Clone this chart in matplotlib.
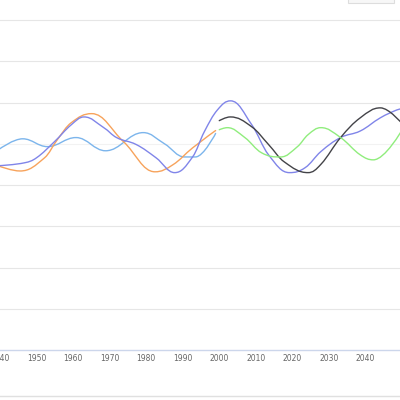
import matplotlib.pyplot as plt
import numpy as np
from matplotlib.path import Path
from matplotlib.patches import PathPatch, Rectangle
from matplotlib.lines import Line2D

# Series (year, value); grid step = 1 unit
blue_years = [1940, 1946.2, 1953, 1960.8, 1968.9, 1979.2, 1985, 1990.5, 1993.5, 1999]
blue_vals = [-0.12, 0.12, -0.07, 0.15, -0.17, 0.27, 0.0, -0.32, -0.32, 0.25]

orange_years = [1940, 1945.5, 1952.2, 1955.7, 1959.5, 1965.1, 1973.8, 1982.4,
                1987.3, 1992.7, 1999]
orange_vals = [-0.55, -0.66, -0.34, 0.10, 0.51, 0.73, 0.05, -0.68,
               -0.51, -0.10, 0.32]

purple_years = [1940, 1946.8, 1950, 1954.9, 1959.5, 1963, 1968.4, 1971.9,
                1977.3, 1982.7, 1987.8, 1992.7, 1995.9, 1999.5, 2003.1, 2008.9,
                2013.5, 2019.2, 2023.5, 2027.8, 2033.2, 2038.6, 2044.1, 2048.6, 2050]
purple_vals = [-0.53, -0.46, -0.34, 0.05, 0.46, 0.65, 0.39, 0.15,
               -0.02, -0.34, -0.70, -0.32, 0.29, 0.82, 1.04, 0.46,
               -0.27, -0.70, -0.58, -0.19, 0.15, 0.31, 0.63, 0.82, 0.85]

black_years = [2000, 2003, 2008.9, 2013.5, 2017.8, 2024.3, 2027.8, 2033.2,
               2038.6, 2044.1, 2050]
black_vals = [0.56, 0.65, 0.41, -0.02, -0.44, -0.70, -0.50, 0.15,
              0.63, 0.87, 0.49]

green_years = [2000, 2002.2, 2007, 2011.6, 2016.8, 2021.4, 2024.3, 2027.8,
               2033.2, 2038.6, 2042.2, 2050]
green_vals = [0.34, 0.39, 0.15, -0.22, -0.32, -0.07, 0.22, 0.39,
              0.15, -0.27, -0.39, 0.33]

x_ticks = list(range(1940, 2041, 10))
y_grid = [-4, -3, -2, -1, 0, 1, 2, 3]


def spline_path(xs, ys, smoothing=1.5):
    # Highcharts-style spline: control points from neighbours, no false extremes
    n = len(xs)
    left = [(xs[0], ys[0])] * n
    right = [(xs[0], ys[0])] * n
    for i in range(n):
        x, y = xs[i], ys[i]
        if i == 0 or i == n - 1:
            left[i] = right[i] = (x, y)
            continue
        lx, ly = xs[i - 1], ys[i - 1]
        nx, ny = xs[i + 1], ys[i + 1]
        d = smoothing + 1
        lcx, lcy = (smoothing * x + lx) / d, (smoothing * y + ly) / d
        rcx, rcy = (smoothing * x + nx) / d, (smoothing * y + ny) / d
        corr = (rcy - lcy) * (rcx - x) / (rcx - lcx) + y - rcy
        lcy += corr
        rcy += corr
        if lcy > ly and lcy > y:
            lcy = max(ly, y)
            rcy = 2 * y - lcy
        elif lcy < ly and lcy < y:
            lcy = min(ly, y)
            rcy = 2 * y - lcy
        if rcy > ny and rcy > y:
            rcy = max(ny, y)
            lcy = 2 * y - rcy
        elif rcy < ny and rcy < y:
            rcy = min(ny, y)
            lcy = 2 * y - rcy
        left[i] = (lcx, lcy)
        right[i] = (rcx, rcy)
    verts = [(xs[0], ys[0])]
    codes = [Path.MOVETO]
    for i in range(1, n):
        verts += [right[i - 1], left[i], (xs[i], ys[i])]
        codes += [Path.CURVE4] * 3
    return Path(verts, codes)


fig = plt.figure(figsize=(4, 4), dpi=100)
ax = fig.add_axes([0, 50 / 400, 1, 350 / 400])

# pixel 0 -> 1941.35, pixel 400 -> 2049.46
ax.set_xlim(1941.35, 2049.46)
ax.set_ylim(-5, 3.485)

for g in y_grid:
    ax.axhline(g, color='#f2f2f2' if g == 0 else '#e6e6e6', lw=0.8, zorder=0)

series = [
    (blue_years, blue_vals, '#7cb5ec'),
    (orange_years, orange_vals, '#f7a35c'),
    (purple_years, purple_vals, '#8085e9'),
    (black_years, black_vals, '#434348'),
    (green_years, green_vals, '#90ed7d'),
]
for xs, ys, c in series:
    ax.add_patch(PathPatch(spline_path(xs, ys), facecolor='none',
                           edgecolor=c, lw=1.0, capstyle='round', zorder=2))

for s in ax.spines.values():
    s.set_visible(False)
ax.axhline(-5, color='#ccd6eb', lw=1.0, zorder=1, clip_on=False)

ax.set_yticks([])
ax.set_xticks(x_ticks)
ax.set_xticklabels([str(t) for t in x_ticks])
ax.tick_params(axis='x', length=0, pad=3, labelsize=5.5, labelcolor='#666666')

# container bits visible in the crop
fig.add_artist(Line2D([0, 1], [4 / 400, 4 / 400], color='#e0e0e0', lw=1.0))
fig.add_artist(Rectangle((348 / 400, 397 / 400), 46 / 400, 10 / 400,
                         facecolor='#f7f7f7', edgecolor='#dddddd', lw=0.8))

fig.savefig('out.png', dpi=100)
